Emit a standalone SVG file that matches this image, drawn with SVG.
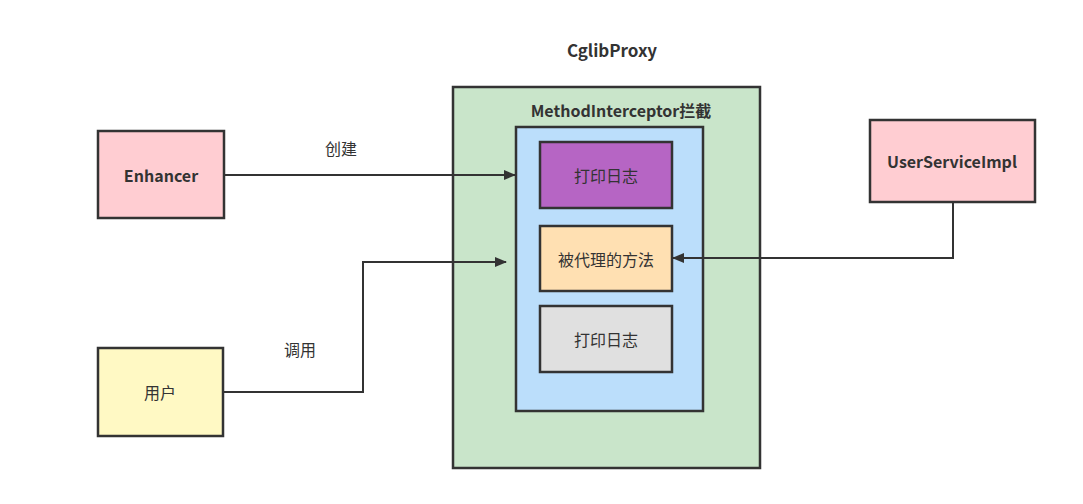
<svg xmlns="http://www.w3.org/2000/svg" width="1083" height="504" viewBox="0 0 1083 504">
<defs>
<style>
.box{stroke:#333;stroke-width:2.5}
.t{font-family:"Noto Sans CJK SC","Noto Sans",sans-serif;font-size:16px;fill:#333;text-anchor:middle;dominant-baseline:central}
.b{font-weight:bold}
.c{fill:none;stroke:#333;stroke-width:2}
</style>
<marker id="ah" markerWidth="12" markerHeight="10" refX="11" refY="5" orient="auto" markerUnits="userSpaceOnUse">
<path d="M0,0 L12,5 L0,10 Z" fill="#333"/>
</marker>
</defs>
<rect width="1083" height="504" fill="#fff"/>
<text class="t b" x="612" y="49" style="font-size:17px">CglibProxy</text>
<g id="proxy">
<rect class="box" x="453" y="87" width="307" height="381" fill="#c9e5ca"/>
<text class="t b" x="621" y="110">MethodInterceptor拦截</text>
</g>
<g id="interceptor">
<rect class="box" x="516" y="127" width="187" height="284" fill="#bbdefb"/>
</g>
<g id="log1">
<rect class="box" x="540" y="142" width="132" height="66" fill="#b665c4"/>
<text class="t" x="606" y="175">打印日志</text>
</g>
<g id="method">
<rect class="box" x="540" y="226" width="132" height="65" fill="#ffe0b2"/>
<text class="t" x="606" y="259">被代理的方法</text>
</g>
<g id="log2">
<rect class="box" x="540" y="306" width="132" height="66" fill="#e0e0e0"/>
<text class="t" x="606" y="339">打印日志</text>
</g>
<g id="enhancer">
<rect class="box" x="98" y="131" width="126" height="87" fill="#ffcdd2"/>
<text class="t b" x="161" y="175">Enhancer</text>
</g>
<g id="user">
<rect class="box" x="98" y="348" width="125" height="88" fill="#fff9c4"/>
<text class="t" x="160" y="392">用户</text>
</g>
<g id="impl">
<rect class="box" x="870" y="120" width="165" height="82" fill="#ffcdd2"/>
<text class="t b" x="952" y="161">UserServiceImpl</text>
</g>
<g id="connectors">
<path class="c" d="M224,175 L515,175" marker-end="url(#ah)"/>
<path class="c" d="M223,392 L363,392 L363,262 L506,262" marker-end="url(#ah)"/>
<path class="c" d="M953,202 L953,258 L673,258" marker-end="url(#ah)"/>
<text class="t" x="341" y="148">创建</text>
<text class="t" x="300" y="349">调用</text>
</g>
</svg>
